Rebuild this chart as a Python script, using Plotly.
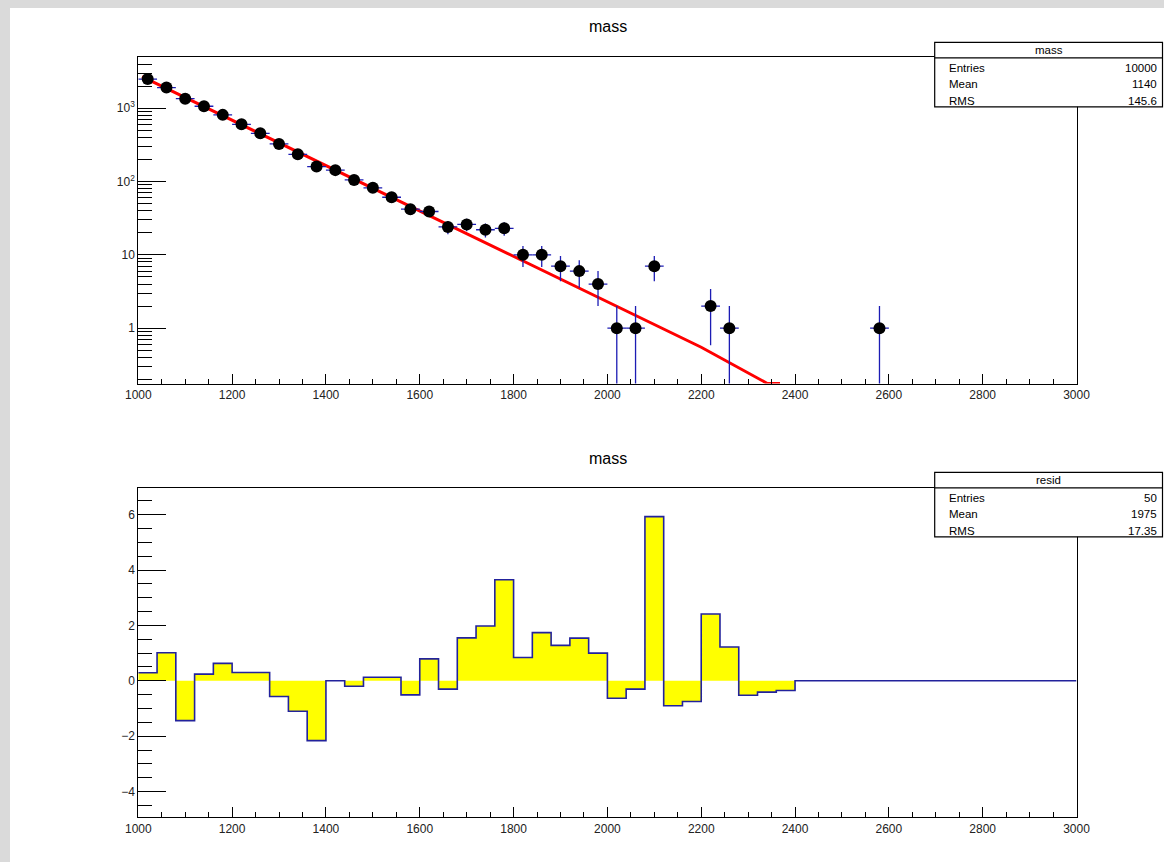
import math
import plotly.graph_objects as go

# ---------------- data ----------------
bin_lo = 1000
bin_width = 40
n_bins = 50

# counts per bin (bin centres 1020, 1060, ...), read from the upper pad
counts = [2499, 1911, 1349, 1063, 811, 603, 454, 326, 235, 160,
          143, 105, 82, 61, 42, 39, 24, 26, 22, 23,
          10, 10, 7, 6, 4, 1, 1, 7, 0, 0,
          2, 1, 0, 0, 0, 0, 0, 0, 0, 1,
          0, 0, 0, 0, 0, 0, 0, 0, 0, 0]

# fitted exponential (red curve) read at a few x positions
fit_x = [1008, 1400, 1800, 2200, 2341, 2368]
fit_y = [2700, 165, 9.4, 0.55, 0.176, 0.176]

# residuals per bin, read from the lower pad
resid = [0.29, 1.01, -1.44, 0.24, 0.63, 0.30, 0.30, -0.57, -1.10, -2.16,
         0.0, -0.20, 0.13, 0.13, -0.51, 0.79, -0.30, 1.55, 1.98, 3.65,
         0.84, 1.74, 1.28, 1.54, 1.00, -0.63, -0.30, 5.93, -0.90, -0.75,
         2.41, 1.22, -0.52, -0.41, -0.35, 0, 0, 0, 0, 0,
         0, 0, 0, 0, 0, 0, 0, 0, 0, 0]

stats_top = [("Entries", "10000"), ("Mean", "1140"), ("RMS", "145.6")]
stats_bot = [("Entries", "50"), ("Mean", "1975"), ("RMS", "17.35")]

x_ticks = [1000, 1200, 1400, 1600, 1800, 2000, 2200, 2400, 2600, 2800, 3000]
log_tickvals = [1, 10, 100, 1000]
log_ticktext = ["1", "10", "10<sup>2</sup>", "10<sup>3</sup>"]

# ---------------- geometry ----------------
W, H = 1164, 862
def px(x):
    return x / W
def py(y):
    return 1 - y / H

FONT = "Liberation Sans, Arial, Helvetica, sans-serif"
BLUE_ERR = "#1c1cb4"
BLUE_LINE = "#22229c"

centers = [bin_lo + bin_width * (i + 0.5) for i in range(n_bins)]
edges = [bin_lo + bin_width * i for i in range(n_bins + 1)]

# only non-empty bins are drawn on log scale
pc, pv, pe_up, pe_dn = [], [], [], []
for c, v in zip(centers, counts):
    if v > 0:
        pc.append(c)
        pv.append(v)
        e = math.sqrt(v)
        pe_up.append(e)
        pe_dn.append(min(e, 0.999 * v))

fig = go.Figure()

# red fit
fig.add_trace(go.Scatter(
    x=fit_x, y=fit_y, mode="lines",
    line=dict(color="#ff0000", width=3),
    xaxis="x", yaxis="y", showlegend=False, hoverinfo="skip"))

# data points with error bars
fig.add_trace(go.Scatter(
    x=pc, y=pv, mode="markers",
    marker=dict(color="black", size=12, symbol="circle"),
    error_x=dict(type="constant", value=bin_width / 2, width=0,
                 thickness=1.3, color=BLUE_ERR),
    error_y=dict(type="data", array=pe_up, arrayminus=pe_dn, symmetric=False,
                 width=0, thickness=1.3, color=BLUE_ERR),
    xaxis="x", yaxis="y", showlegend=False))

# residual histogram (filled step)
fig.add_trace(go.Scatter(
    x=edges, y=resid + [resid[-1]], mode="lines",
    line=dict(color=BLUE_LINE, width=1.6, shape="hv"),
    fill="tozeroy", fillcolor="#ffff00",
    xaxis="x2", yaxis="y2", showlegend=False))

top_dom = [py(383.5), py(56.5)]
bot_dom = [py(817.3), py(487.5)]
x_dom = [px(138.3), px(1076.5)]

common_x = dict(
    domain=x_dom, range=[1000, 3000], tickvals=x_ticks,
    ticks="inside", ticklen=10, tickcolor="black", tickwidth=1,
    minor=dict(dtick=50, tick0=1000, ticks="inside", ticklen=5,
               tickcolor="black", tickwidth=1),
    showline=True, linecolor="black", linewidth=1, mirror=True,
    showgrid=False, zeroline=False, automargin=False,
    tickfont=dict(family=FONT, size=12, color="#222"))

minor_log = []
for dec in [0.1, 1, 10, 100, 1000]:
    for k in range(2, 10):
        minor_log.append(dec * k)

fig.update_layout(
    template="none",
    width=W, height=H,
    margin=dict(l=0, r=0, t=0, b=0, pad=0, autoexpand=False),
    paper_bgcolor="white", plot_bgcolor="white",
    hovermode=False,
    xaxis=dict(anchor="y", **common_x),
    yaxis=dict(
        domain=top_dom, type="log",
        range=[math.log10(0.176), math.log10(5070)],
        tickvals=log_tickvals, ticktext=log_ticktext,
        ticks="inside", ticklen=28, tickcolor="black", tickwidth=1,
        minor=dict(tickmode="array", tickvals=minor_log, ticks="inside",
                   ticklen=14, tickcolor="black", tickwidth=1),
        showline=True, linecolor="black", linewidth=1, mirror=True,
        showgrid=False, zeroline=False, anchor="x", automargin=False,
        tickfont=dict(family=FONT, size=12, color="#222")),
    xaxis2=dict(anchor="y2", **common_x),
    yaxis2=dict(
        domain=bot_dom, range=[-4.93, 6.98],
        tickvals=[-4, -2, 0, 2, 4, 6],
        ticks="inside", ticklen=28, tickcolor="black", tickwidth=1,
        minor=dict(dtick=0.5, tick0=0, ticks="inside", ticklen=14,
                   tickcolor="black", tickwidth=1),
        showline=True, linecolor="black", linewidth=1, mirror=True,
        showgrid=False, zeroline=False, anchor="x2", automargin=False,
        tickfont=dict(family=FONT, size=12, color="#222")),
)

shapes = []
annotations = []

# textured grey surround (left and top strips)
shapes.append(dict(type="rect", xref="paper", yref="paper",
                   x0=0, x1=px(10), y0=0, y1=1, fillcolor="#dadada",
                   line=dict(width=0), layer="above"))
shapes.append(dict(type="rect", xref="paper", yref="paper",
                   x0=0, x1=1, y0=py(8), y1=1, fillcolor="#dadada",
                   line=dict(width=0), layer="above"))

# titles
for ty in [27, 458]:
    annotations.append(dict(text="mass", xref="paper", yref="paper",
                            x=px(608), y=py(ty), showarrow=False,
                            xanchor="center", yanchor="middle",
                            font=dict(family=FONT, size=16, color="black")))

def stat_box(top, name, rows):
    left, right = 934.7, 1162.5
    sep = top + 15.5
    bottom = top + 64.5
    shapes.append(dict(type="rect", xref="paper", yref="paper",
                       x0=px(left), x1=px(right), y0=py(bottom), y1=py(top),
                       fillcolor="white", line=dict(color="black", width=1.2),
                       layer="above"))
    shapes.append(dict(type="line", xref="paper", yref="paper",
                       x0=px(left), x1=px(right), y0=py(sep), y1=py(sep),
                       line=dict(color="black", width=1.2), layer="above"))
    annotations.append(dict(text=name, xref="paper", yref="paper",
                            x=px((left + right) / 2), y=py(top + 8),
                            showarrow=False, xanchor="center", yanchor="middle",
                            font=dict(family=FONT, size=11.5, color="black")))
    for i, (k, v) in enumerate(rows):
        yy = top + 25.5 + i * 16.5
        annotations.append(dict(text=k, xref="paper", yref="paper",
                                x=px(946.5), y=py(yy), showarrow=False,
                                xanchor="left", yanchor="middle",
                                font=dict(family=FONT, size=11.5, color="black")))
        annotations.append(dict(text=v, xref="paper", yref="paper",
                                x=px(1158.5), y=py(yy), showarrow=False,
                                xanchor="right", yanchor="middle",
                                font=dict(family=FONT, size=11.5, color="black")))

stat_box(42.3, "mass", stats_top)
stat_box(472.3, "resid", stats_bot)

fig.update_layout(shapes=shapes, annotations=annotations)

fig.write_html(
    "out.html",
    config={"displayModeBar": False},
    post_script="document.body.style.margin='0px';"
                "document.body.style.background='#dadada';")
